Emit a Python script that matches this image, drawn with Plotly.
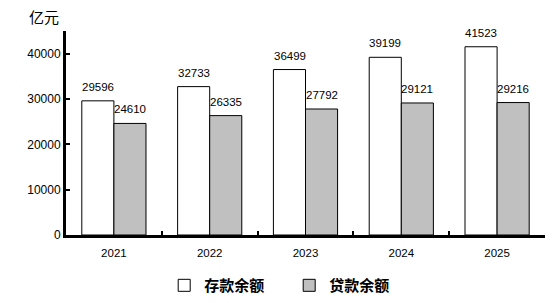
import plotly.graph_objects as go

years = ["2021", "2022", "2023", "2024", "2025"]
deposits = [29596, 32733, 36499, 39199, 41523]
loans = [24610, 26335, 27792, 29121, 29216]
series_names = ["存款余额", "贷款余额"]
colors = ["#FFFFFF", "#C0C0C0"]

fig = go.Figure()
for name, vals, col in zip(series_names, [deposits, loans], colors):
    fig.add_trace(go.Bar(
        x=years, y=vals, name=name,
        marker=dict(color=col, line=dict(color="black", width=1)),
    ))

for vals, xs in [(deposits, -16), (loans, 16)]:
    for i, v in enumerate(vals):
        fig.add_annotation(x=i, y=v, text=str(v), showarrow=False,
                           xshift=xs, yshift=6, yanchor="bottom",
                           font=dict(family="Arial, Liberation Sans", size=11.5, color="black"))

fig.add_annotation(x=0, y=1, xref="paper", yref="paper", xanchor="left", yanchor="top",
                   xshift=-39, yshift=27, text="亿元", showarrow=False,
                   font=dict(family="Noto Sans CJK SC", size=15, color="black"))

fig.update_layout(
    width=552, height=303,
    margin=dict(l=66, r=7, t=31, b=68, autoexpand=False),
    paper_bgcolor="white", plot_bgcolor="white",
    barmode="group", bargap=0.33, bargroupgap=0,
    font=dict(family="Arial, Liberation Sans", size=12, color="black"),
    legend=dict(orientation="h", x=0.205, xanchor="left", y=-0.167, yanchor="top",
                font=dict(family="Noto Sans CJK SC", size=15, color="black", weight="bold"),
                itemwidth=30, entrywidth=80, traceorder="normal"),
    xaxis=dict(type="category", range=[-0.5, 4.5], showline=True, linecolor="black", linewidth=3,
               ticks="inside", tickson="boundaries", ticklen=4, tickwidth=2, tickcolor="black",
               showgrid=False, tickfont=dict(size=11.5), ticklabelstandoff=5),
    yaxis=dict(range=[0, 45000], showline=True, linecolor="black", linewidth=3,
               ticks="inside", ticklen=4, tickwidth=2, tickcolor="black",
               dtick=10000, showgrid=False, zeroline=False, tickformat="d",
               tickfont=dict(size=12)),
)
fig.write_html("out.html")
